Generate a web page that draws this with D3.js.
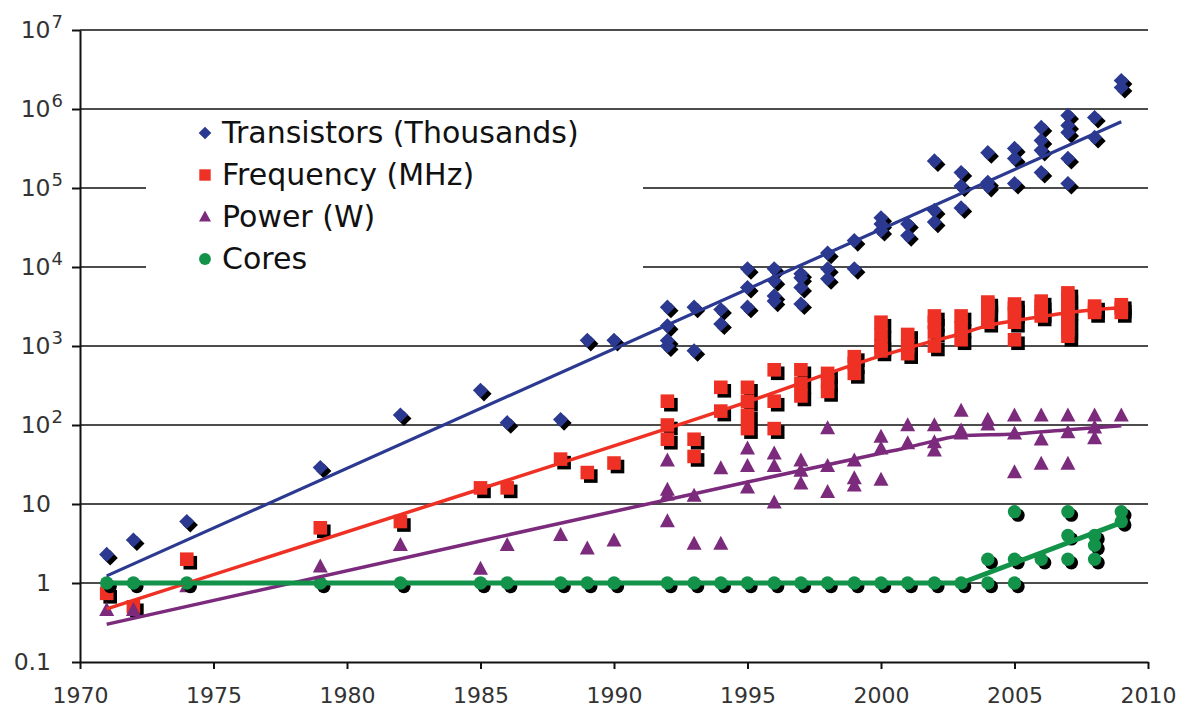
<!DOCTYPE html>
<html>
<head>
<meta charset="utf-8">
<script src="https://cdn.jsdelivr.net/npm/d3@7"></script>
<style>
  body { margin: 0; background: #fff; }
  svg { display: block; font-family: "DejaVu Sans", Verdana, sans-serif; }
</style>
</head>
<body>
<div id="chart"></div>
<script>
// data: [year, value]
const transistors = [
  [1971, 2.3], [1972, 3.5], [1974, 6], [1979, 29], [1982, 134], [1985, 275], [1986, 107],
  [1988, 117], [1989, 1180], [1990, 1180],
  [1992, 3100], [1992, 1800], [1992, 1170], [1992, 1000], [1993, 3100], [1993, 870],
  [1994, 2900], [1994, 1900], [1995, 9500], [1995, 5500], [1995, 3100],
  [1996, 9500], [1996, 6700], [1996, 4300], [1996, 3700],
  [1997, 8200], [1997, 7300], [1997, 5500], [1997, 3400],
  [1998, 15000], [1998, 9500], [1998, 7100], [1999, 21600], [1999, 9500],
  [2000, 42000], [2000, 35000], [2000, 29000], [2001, 35000], [2001, 25000],
  [2002, 220000], [2002, 52000], [2002, 37000], [2003, 157000], [2003, 106000], [2003, 56000],
  [2004, 280000], [2004, 118000], [2004, 105000], [2005, 317000], [2005, 237000], [2005, 114000],
  [2006, 585000], [2006, 400000], [2006, 300000], [2006, 157000],
  [2007, 830000], [2007, 620000], [2007, 505000], [2007, 237000], [2007, 114000],
  [2008, 780000], [2008, 437000], [2009, 2290000], [2009, 1870000]
];
const frequency = [
  [1971, 0.74], [1972, 0.5], [1974, 2], [1979, 5], [1982, 6], [1985, 16], [1986, 16],
  [1988, 37], [1989, 25], [1990, 33],
  [1992, 200], [1992, 100], [1992, 66], [1993, 66], [1993, 40], [1994, 300], [1994, 150],
  [1995, 300], [1995, 200], [1995, 133], [1995, 90], [1996, 500], [1996, 200], [1996, 90],
  [1997, 500], [1997, 333], [1997, 233], [1998, 450], [1998, 350], [1998, 266],
  [1999, 733], [1999, 600], [1999, 450],
  [2000, 2000], [2000, 1400], [2000, 1000], [2000, 866], [2001, 1400], [2001, 1000], [2001, 800],
  [2002, 2400], [2002, 2000], [2002, 1500], [2002, 1000], [2003, 2400], [2003, 1700], [2003, 1200],
  [2004, 3600], [2004, 3400], [2004, 3000], [2004, 2800], [2004, 2000],
  [2005, 3400], [2005, 3000], [2005, 2600], [2005, 2000], [2005, 1200],
  [2006, 3700], [2006, 3200], [2006, 2660], [2006, 2400],
  [2007, 4700], [2007, 4000], [2007, 3200], [2007, 2800], [2007, 2400], [2007, 2000], [2007, 1600], [2007, 1330],
  [2008, 3200], [2008, 2930], [2008, 2660], [2009, 3330], [2009, 3000], [2009, 2660]
];
const power = [
  [1971, 0.45], [1972, 0.45], [1974, 0.9], [1979, 1.6], [1982, 3], [1985, 1.5], [1986, 3],
  [1988, 4], [1989, 2.7], [1990, 3.4],
  [1992, 35], [1992, 15], [1992, 13], [1992, 6], [1993, 12.6], [1993, 3.1], [1994, 28], [1994, 3.1],
  [1995, 50], [1995, 30], [1995, 16], [1996, 43], [1996, 30], [1996, 10.3],
  [1997, 35], [1997, 26], [1997, 18], [1998, 90], [1998, 30], [1998, 14], [1999, 35], [1999, 21], [1999, 17],
  [2000, 70], [2000, 50], [2000, 20], [2001, 98], [2001, 58], [2002, 98], [2002, 60], [2002, 47],
  [2003, 150], [2003, 84], [2003, 77], [2004, 115], [2004, 100], [2005, 130], [2005, 77], [2005, 25],
  [2006, 130], [2006, 65], [2006, 32], [2007, 130], [2007, 80], [2007, 32],
  [2008, 130], [2008, 92], [2008, 67], [2009, 130]
];
const cores = [
  [1971, 1], [1972, 1], [1974, 1], [1979, 1], [1982, 1], [1985, 1], [1986, 1], [1988, 1],
  [1989, 1], [1990, 1], [1992, 1], [1993, 1], [1994, 1], [1995, 1], [1996, 1], [1997, 1],
  [1998, 1], [1999, 1], [2000, 1], [2001, 1], [2002, 1], [2003, 1],
  [2004, 1], [2004, 2], [2005, 1], [2005, 2], [2005, 8], [2006, 2],
  [2007, 2], [2007, 4], [2007, 8], [2008, 2], [2008, 3], [2008, 4], [2009, 6], [2009, 8]
];

// trend lines
const transistorTrend = [[1971, 1.23], [2009, 690000]];
const frequencyTrend = [[1971, 0.47], [1985, 15.5], [1995, 196], [2000, 750], [2002, 1170], [2003, 1430],
  [2004, 1810], [2005, 2090], [2006, 2360], [2007, 2640], [2008, 2880], [2009, 3050]];
const powerTrend = [[1971, 0.30], [1985, 3.4], [1995, 19], [2000, 44], [2001, 52], [2002, 63], [2003, 73],
  [2005, 77], [2007, 87], [2009, 98]];
const coresTrend = [[1971, 1], [2003, 1], [2009, 5.8]];

const xTicks = [1970, 1975, 1980, 1985, 1990, 1995, 2000, 2005, 2010];
const yTicks = [0.1, 1, 10, 100, 1e3, 1e4, 1e5, 1e6, 1e7];
const yLabels = [["0.1", ""], ["1", ""], ["10", ""], ["10", "2"], ["10", "3"], ["10", "4"], ["10", "5"], ["10", "6"], ["10", "7"]];
const legendNames = ["Transistors (Thousands)", "Frequency (MHz)", "Power (W)", "Cores"];

const colors = { blue: "#2b3990", red: "#ee3124", purple: "#7b2a7c", green: "#13924a" };

const W = 1191, H = 710;
const svg = d3.select("#chart").append("svg").attr("width", W).attr("height", H);

const x = d3.scaleLinear().domain([1970, 2010]).range([80, 1148]);
const y = d3.scaleLog().domain([0.1, 1e7]).range([662, 30]);

// gridlines
svg.append("g").selectAll("line")
  .data(yTicks.slice(1))
  .enter().append("line")
  .attr("x1", x(1970)).attr("x2", x(2010))
  .attr("y1", d => y(d)).attr("y2", d => y(d))
  .attr("stroke", "#111").attr("stroke-width", 1.6);

// white legend box covers the gridlines
svg.append("rect")
  .attr("x", 146).attr("y", 113).attr("width", 497).attr("height", 175)
  .attr("fill", "#fff");

// axes
const xAxis = svg.append("g")
  .attr("transform", `translate(0,${y(0.1)})`)
  .call(d3.axisBottom(x).tickValues(xTicks).tickSize(7).tickSizeOuter(0).tickFormat(d3.format("d")));
const yAxis = svg.append("g")
  .attr("transform", `translate(${x(1970)},0)`)
  .call(d3.axisLeft(y).tickValues(yTicks).tickSize(8).tickSizeOuter(0).tickFormat(""));
[xAxis, yAxis].forEach(a => {
  a.select(".domain").attr("stroke", "#111").attr("stroke-width", 2);
  a.selectAll(".tick line").attr("stroke", "#111").attr("stroke-width", 2);
});
xAxis.attr("font-family", "DejaVu Sans").attr("font-size", 22);
xAxis.selectAll(".tick text")
  .attr("fill", "#333").attr("y", 25).attr("dy", "0.71em");

// y tick labels with superscripts
yTicks.forEach((v, i) => {
  const lab = yLabels[i];
  const t = svg.append("text")
    .attr("text-anchor", "end")
    .attr("x", lab[1] ? 63 : 51)
    .attr("y", y(v) + 8)
    .attr("font-size", 23.5).attr("fill", "#333");
  t.append("tspan").text(lab[0]);
  if (lab[1]) t.append("tspan").attr("font-size", 18).attr("dx", 1).attr("dy", -10).text(lab[1]);
});

// marker shapes
const tri = (w, h) => ({
  draw(ctx) {
    ctx.moveTo(0, -h * 0.6);
    ctx.lineTo(w / 2, h * 0.4);
    ctx.lineTo(-w / 2, h * 0.4);
    ctx.closePath();
  }
});
const diamond = d3.symbol().type(d3.symbolSquare).size(115);
const square = d3.symbol().type(d3.symbolSquare).size(185);
const triangle = d3.symbol().type(tri(15, 14));
const circle = d3.symbol().type(d3.symbolCircle).size(140);

function drawSeries(data, shape, color, rotate, shadow) {
  const g = svg.append("g");
  const tf = d => `translate(${x(d[0])},${y(d[1])})` + (rotate ? " rotate(45)" : "");
  if (shadow) {
    g.selectAll(".sh").data(data).enter().append("path")
      .attr("d", shape)
      .attr("transform", d => `translate(3.5,3.5) ` + tf(d))
      .attr("fill", "#000");
  }
  g.selectAll(".mk").data(data).enter().append("path")
    .attr("d", shape)
    .attr("transform", tf)
    .attr("fill", color);
}

drawSeries(transistors, diamond, colors.blue, true, true);
drawSeries(frequency, square, colors.red, false, true);
drawSeries(power, triangle, colors.purple, false, false);
drawSeries(cores, circle, colors.green, false, true);

// trend lines
const line = d3.line().x(d => x(d[0])).y(d => y(d[1]));
const curved = d3.line().x(d => x(d[0])).y(d => y(d[1])).curve(d3.curveMonotoneX);
svg.append("path").datum(transistorTrend).attr("d", line)
  .attr("fill", "none").attr("stroke", colors.blue).attr("stroke-width", 3.2);
svg.append("path").datum(frequencyTrend).attr("d", curved)
  .attr("fill", "none").attr("stroke", colors.red).attr("stroke-width", 3.5);
svg.append("path").datum(powerTrend).attr("d", curved)
  .attr("fill", "none").attr("stroke", colors.purple).attr("stroke-width", 3.5);
svg.append("path").datum(coresTrend).attr("d", line)
  .attr("fill", "none").attr("stroke", colors.green).attr("stroke-width", 5);

// legend
const legendShapes = [
  d3.symbol().type(d3.symbolSquare).size(80),
  d3.symbol().type(d3.symbolSquare).size(130),
  d3.symbol().type(tri(12, 11)),
  d3.symbol().type(d3.symbolCircle).size(110)
];
const legendColors = [colors.blue, colors.red, colors.purple, colors.green];
const legend = svg.append("g");
legendNames.forEach((name, i) => {
  const cy = 132 + i * 42;
  legend.append("path")
    .attr("d", legendShapes[i])
    .attr("transform", `translate(205,${cy + 1})` + (i === 0 ? " rotate(45)" : ""))
    .attr("fill", legendColors[i]);
  legend.append("text")
    .attr("x", 222).attr("y", cy + 11)
    .attr("font-size", 30).attr("fill", "#111")
    .text(name);
});
</script>
</body>
</html>
